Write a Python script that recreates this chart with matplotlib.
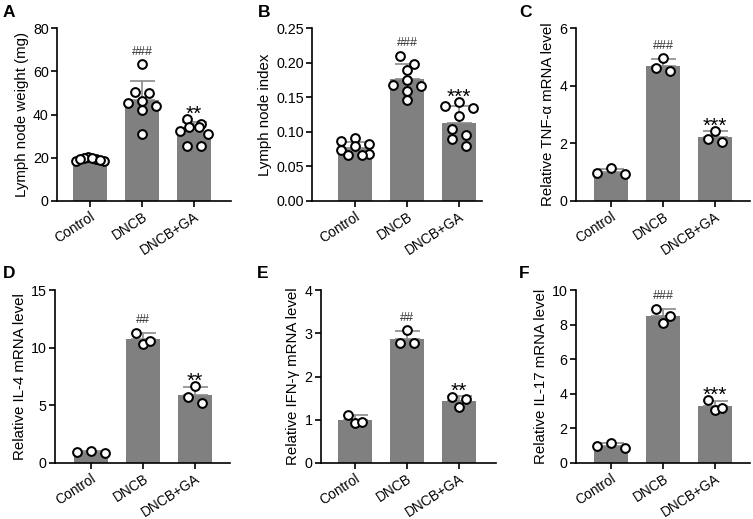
import numpy as np
import matplotlib.pyplot as plt

plt.rcParams['font.family'] = ['Liberation Sans', 'DejaVu Sans']

groups = ["Control", "DNCB", "DNCB+GA"]

# A: lymph node weight (mg), n = 8 per group
weight_ctrl = [19.2, 20.5, 19.8, 18.4, 20.0, 18.4, 19.2, 18.9]
weight_dncb = [63.2, 50.5, 49.8, 46.2, 45.2, 44.1, 42.1, 30.8]
weight_ga = [37.9, 35.6, 34.1, 34.1, 32.5, 30.8, 25.4, 25.4]

# B: lymph node index, n = 8
index_ctrl = [0.091, 0.086, 0.082, 0.079, 0.073, 0.068, 0.067, 0.066]
index_dncb = [0.2095, 0.198, 0.190, 0.1749, 0.1676, 0.1666, 0.1594, 0.146]
index_ga = [0.1435, 0.137, 0.134, 0.123, 0.1036, 0.0954, 0.0896, 0.080]

# C-F: relative mRNA levels, n = 3
tnf_ctrl = [1.13, 0.94, 0.98]
tnf_dncb = [4.95, 4.52, 4.60]
tnf_ga = [2.44, 2.06, 2.14]

il4_ctrl = [0.90, 1.07, 0.98]
il4_dncb = [11.3, 10.32, 10.61]
il4_ga = [6.68, 5.23, 5.70]

ifn_ctrl = [1.12, 0.92, 0.94]
ifn_dncb = [3.07, 2.77, 2.77]
ifn_ga = [1.53, 1.47, 1.29]

il17_ctrl = [0.85, 1.14, 1.01]
il17_dncb = [8.9, 8.12, 8.51]
il17_ga = [3.62, 3.08, 3.18]

marks = {
    "A": ["", "###", "**"],
    "B": ["", "###", "***"],
    "C": ["", "###", "***"],
    "D": ["", "##", "**"],
    "E": ["", "##", "**"],
    "F": ["", "###", "***"],
}

panels = [
    ("A", "Lymph node weight (mg)", [weight_ctrl, weight_dncb, weight_ga], [0, 20, 40, 60, 80], "%d"),
    ("B", "Lymph node index", [index_ctrl, index_dncb, index_ga], [0, 0.05, 0.10, 0.15, 0.20, 0.25], "%.2f"),
    ("C", "Relative TNF-α mRNA level", [tnf_ctrl, tnf_dncb, tnf_ga], [0, 2, 4, 6], "%d"),
    ("D", "Relative IL-4 mRNA level", [il4_ctrl, il4_dncb, il4_ga], [0, 5, 10, 15], "%d"),
    ("E", "Relative IFN-γ mRNA level", [ifn_ctrl, ifn_dncb, ifn_ga], [0, 1, 2, 3, 4], "%d"),
    ("F", "Relative IL-17 mRNA level", [il17_ctrl, il17_dncb, il17_ga], [0, 2, 4, 6, 8, 10], "%d"),
]

W, H = 753, 519
# axes boxes in pixels: left, right, top, bottom, and x limits
boxes = {
    "A": (57, 231, 28, 201, -0.635, 2.71),
    "B": (312, 482, 28, 201, -0.83, 2.44),
    "C": (576, 750, 28, 201, -0.67, 2.67),
    "D": (55, 230, 290, 463, -0.69, 2.67),
    "E": (321, 496, 290, 463, -0.65, 2.71),
    "F": (576, 750, 290, 463, -0.67, 2.67),
}
letter_pos = {"A": (3, 5), "B": (258, 5), "C": (519, 5), "D": (3, 266), "E": (257, 266), "F": (519, 266)}

bar_col = '#808080'
err_col = '#8a8a8a'


def swarm(ax, vals, diam=8.0, width=28.0, gap=14.0):
    # group points into rows by pixel height, spread each row symmetrically
    vals = np.asarray(vals, dtype=float)
    ypix = ax.transData.transform(np.column_stack([np.zeros(len(vals)), vals]))[:, 1]
    order = np.argsort(-vals, kind='stable')
    rows = []
    for i in order:
        if rows and ypix[rows[-1][0]] - ypix[i] < diam:
            rows[-1].append(i)
        else:
            rows.append([i])
    per_unit = ax.transData.transform((1, 0))[0] - ax.transData.transform((0, 0))[0]
    offs = np.zeros(len(vals))
    for row in rows:
        k = len(row)
        if k == 1:
            continue
        s = min(gap, width / (k - 1))
        pos = sorted((np.arange(k) - (k - 1) / 2) * s, key=lambda p: (abs(p), p))
        for i, p in zip(row, pos):
            offs[i] = p / per_unit
    return offs


fig = plt.figure(figsize=(W / 100, H / 100), dpi=100)

for key, ylabel, data, yticks, fmt in panels:
    l, r, t, b, x0, x1 = boxes[key]
    ax = fig.add_axes([l / W, (H - b) / H, (r - l) / W, (b - t) / H])
    ax.set_xlim(x0, x1)
    ax.set_ylim(0, yticks[-1])
    ax.spines['top'].set_visible(False)
    ax.spines['right'].set_visible(False)
    for s in ['left', 'bottom']:
        ax.spines[s].set_linewidth(1.2)
    ax.tick_params(width=1.2, length=4, labelsize=10.3, direction='out', pad=2)
    ax.tick_params(axis='x', labelsize=9.9)
    ax.set_yticks(yticks)
    ax.set_yticklabels([fmt % v for v in yticks])
    ax.set_xticks(range(3))
    ax.set_xticklabels(groups, rotation=33, ha='right', va='top', rotation_mode='anchor')
    ax.set_ylabel(ylabel, fontsize=10.8, labelpad=3)

    for i, vals in enumerate(data):
        m = np.mean(vals)
        sd = np.std(vals, ddof=1)
        ax.bar(i, m, width=0.65, color=bar_col, zorder=1)
        ax.errorbar(i, m, yerr=[[0], [sd]], color=err_col, elinewidth=1.2,
                    capsize=9, capthick=1.2, zorder=2)
        xs = i + swarm(ax, vals)
        ax.plot(xs, vals, 'o', ms=6.3, mfc='white', mec='black', mew=1.45,
                zorder=3, clip_on=False)
        lab = marks[key][i]
        if lab:
            top = max(max(vals), m + sd)
            if lab.startswith('#'):
                ax.annotate(lab, (i, top), xytext=(0, 7), textcoords='offset points',
                            ha='center', va='baseline', fontsize=9, color='#333333')
            else:
                ax.annotate(lab, (i, top), xytext=(0, -0.5), textcoords='offset points',
                            ha='center', va='baseline', fontsize=15, color='black')

    lx, ly = letter_pos[key]
    fig.text(lx / W, 1 - ly / H, key, fontsize=12.5, fontweight='bold', ha='left', va='top')

fig.savefig('out.png', dpi=100)
